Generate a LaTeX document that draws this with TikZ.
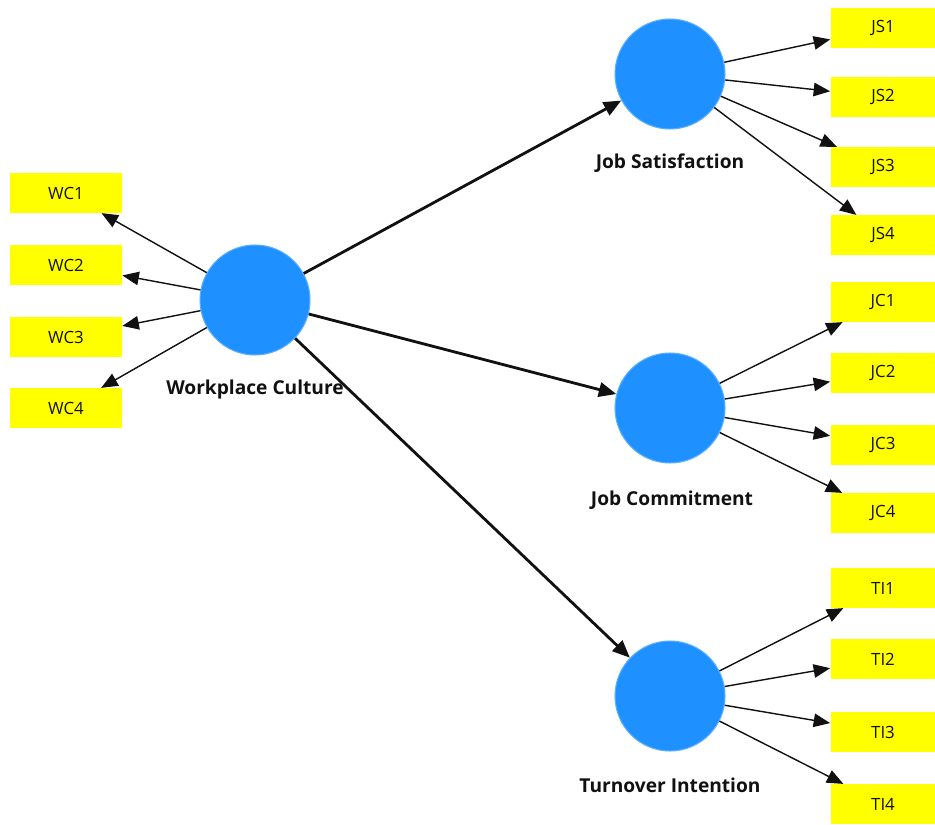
\documentclass[tikz,border=0pt]{standalone}
\usepackage{fontspec}
\setmainfont{Open Sans}
\usepackage{tikz}
\usetikzlibrary{arrows.meta,positioning}
\definecolor{latent}{RGB}{30,144,255}
\definecolor{latedge}{RGB}{90,175,255}
\definecolor{item}{RGB}{255,255,0}
\definecolor{ink}{HTML}{111111}
\tikzset{
  lv/.style    = {circle, fill=latent, draw=latedge, line width=0.6pt, minimum size=2.2cm, inner sep=0pt},
  lvname/.style= {font=\fontsize{10.9}{13}\selectfont\bfseries, text=ink, inner sep=1pt},
  ind/.style   = {rectangle, fill=item, draw=none, minimum width=2.24cm, minimum height=0.79cm,
                  inner sep=0pt, font=\fontsize{9.6}{11}\selectfont, text=ink},
  indr/.style  = {ind, minimum width=2.1cm},
  ld/.style    = {-{Triangle[length=3.3mm,width=2.7mm]}, line width=0.8pt, draw=ink},
  path/.style  = {-{Triangle[length=3.5mm,width=2.9mm]}, line width=1.6pt, draw=ink},
}
\begin{document}
\begin{tikzpicture}[x=0.02cm, y=-0.02cm]
\useasboundingbox[fill=white] (0,0) rectangle (935,824);
% latent variables
\node[lv] (wc) at (255,300) {};
\node[lv] (js) at (670,74) {};
\node[lv] (jc) at (670,408) {};
\node[lv] (ti) at (670,696) {};
% indicators
\node[ind] (wc1) at (66,193) {WC1};
\node[ind] (wc2) at (66,265) {WC2};
\node[ind] (wc3) at (66,337) {WC3};
\node[ind] (wc4) at (66,408) {WC4};
\node[indr] (js1) at (883,28) {JS1};
\node[indr] (js2) at (883,97) {JS2};
\node[indr] (js3) at (883,167) {JS3};
\node[indr] (js4) at (883,235) {JS4};
\node[indr] (jc1) at (883,302) {JC1};
\node[indr] (jc2) at (883,373) {JC2};
\node[indr] (jc3) at (883,445) {JC3};
\node[indr] (jc4) at (883,513) {JC4};
\node[indr] (ti1) at (883,588) {TI1};
\node[indr] (ti2) at (883,659) {TI2};
\node[indr] (ti3) at (883,732) {TI3};
\node[indr] (ti4) at (883,804) {TI4};
% edges
\draw[path] (wc) -- (js);
\draw[path] (wc) -- (jc);
\draw[path] (wc) -- (ti);
\draw[ld] (wc) -- (wc1);
\draw[ld] (wc) -- (wc2);
\draw[ld] (wc) -- (wc3);
\draw[ld] (wc) -- (wc4);
\draw[ld] (js) -- (js1);
\draw[ld] (js) -- (js2);
\draw[ld] (js) -- (js3);
\draw[ld] (js) -- (js4);
\draw[ld] (jc) -- (jc1);
\draw[ld] (jc) -- (jc2);
\draw[ld] (jc) -- (jc3);
\draw[ld] (jc) -- (jc4);
\draw[ld] (ti) -- (ti1);
\draw[ld] (ti) -- (ti2);
\draw[ld] (ti) -- (ti3);
\draw[ld] (ti) -- (ti4);
% names
\node[lvname] (wcl) at (255,390) {Workplace Culture};
\node[lvname] (jsl) at (670,163) {Job Satisfaction};
\node[lvname] (jcl) at (672,500) {Job Commitment};
\node[lvname] (til) at (670,785) {Turnover Intention};
\end{tikzpicture}
\end{document}
